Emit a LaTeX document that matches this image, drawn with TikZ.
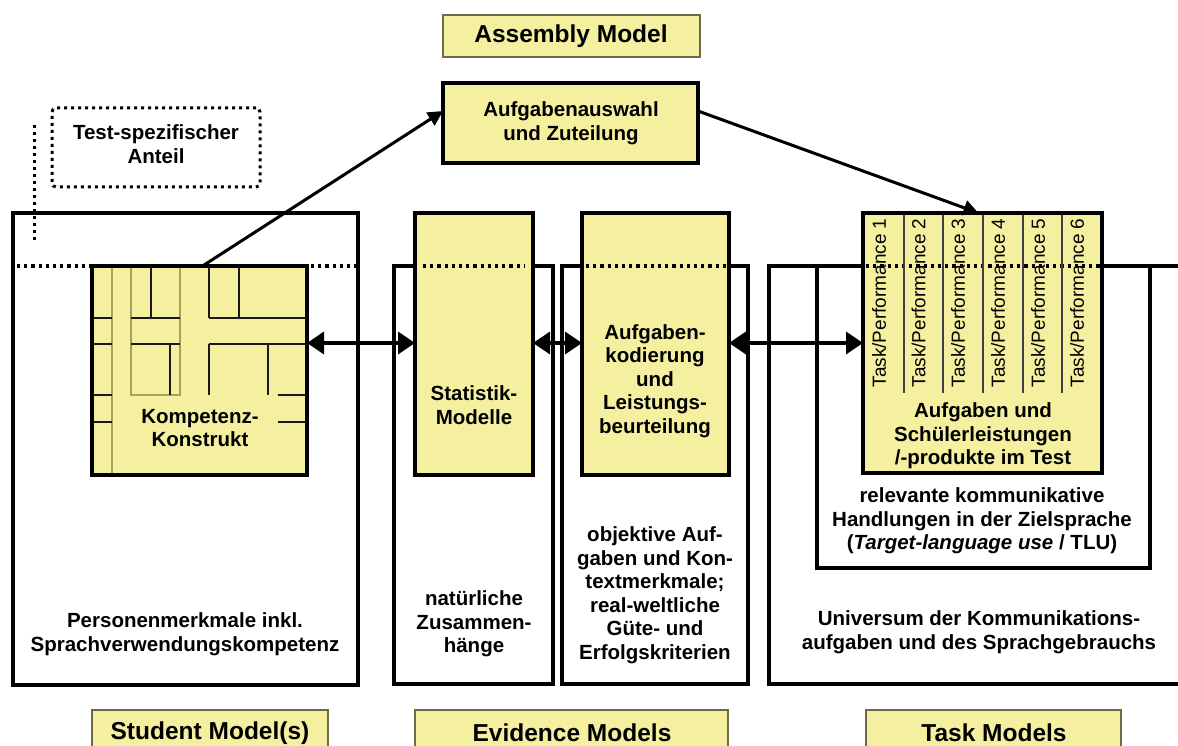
\documentclass[tikz,border=0pt]{standalone}
\usepackage{fontspec}
\setmainfont{Liberation Sans}
\usetikzlibrary{arrows.meta}
\definecolor{boxyellow}{RGB}{245,240,160}
\definecolor{gridolive}{RGB}{170,160,90}
\definecolor{labelborder}{RGB}{110,105,70}
\begin{document}
\begin{tikzpicture}[x=1pt,y=-1pt,
  box/.style={inner sep=0pt, outer sep=0pt, anchor=north west},
  outerbox/.style={box, draw=black, line width=3.5pt},
  yellowbox/.style={box, draw=black, line width=3.5pt, fill=boxyellow},
  labelbox/.style={box, draw=labelborder, line width=1.6pt, fill=boxyellow},
  txt/.style={font=\bfseries\fontsize{20.5}{23.5}\selectfont, align=center, inner sep=0pt},
  labeltxt/.style={font=\bfseries\fontsize{24.5}{28}\selectfont, inner sep=0pt},
  perftxt/.style={font=\fontsize{19}{22}\selectfont, inner sep=0pt, rotate=90},
  dotline/.style={line width=3.2pt, dash pattern=on 3.2pt off 4pt},
  thindot/.style={line width=3pt, dash pattern=on 3pt off 4pt},
  darkgrid/.style={line width=2.2pt, draw=black!90},
  olivegrid/.style={line width=2.2pt, draw=gridolive},
  collines/.style={line width=1.4pt, draw=black!75},
  dblarrow/.style={line width=3.5pt, {Triangle[length=17pt,width=22pt]}-{Triangle[length=17pt,width=22pt]}},
  connarrow/.style={line width=3pt, -{Triangle[length=15pt,width=15pt]}}
]
\fill[white] (0,0) rectangle (1178,746);
\clip (0,0) rectangle (1178,746);
\useasboundingbox (0,0) rectangle (1178,746);

% outer (white) boxes
\node[outerbox, minimum width=345pt, minimum height=472pt] (studentouter) at (13,213) {};
\node[outerbox, minimum width=159pt, minimum height=418pt] (statouter) at (394,266) {};
\node[outerbox, minimum width=186pt, minimum height=418pt] (evidouter) at (562,266) {};
\node[outerbox, minimum width=450pt, minimum height=418pt] (taskouter) at (769,266) {};
\node[outerbox, minimum width=333pt, minimum height=302pt] (tlu) at (817,266) {};

% yellow boxes
\node[yellowbox, minimum width=215pt, minimum height=209pt] (komp) at (92,266) {};
\node[yellowbox, minimum width=118pt, minimum height=262pt] (stat) at (415,213) {};
\node[yellowbox, minimum width=147pt, minimum height=262pt] (kod) at (582,213) {};
\node[yellowbox, minimum width=239pt, minimum height=260pt] (task) at (863,213) {};
\node[yellowbox, line width=4pt, minimum width=255pt, minimum height=80pt] (auswahl) at (443,83) {};
\node[labelbox, minimum width=257pt, minimum height=42pt] (assembly) at (443,15) {};
\node[labelbox, minimum width=236pt, minimum height=45pt] (studentlabel) at (92,710) {};
\node[labelbox, minimum width=313pt, minimum height=45pt] (evidlabel) at (415,710) {};
\node[labelbox, minimum width=255pt, minimum height=45pt] (tasklabel) at (866,710) {};

% test-specific dotted box
\node[box, draw=black, thindot, rounded corners=4pt, minimum width=208pt, minimum height=79pt] (testbox) at (52,108) {};
\draw[thindot] (34,125) -- (34,242);

% dotted line of test-specific part
\draw[dotline] (17,266) -- (90,266);
\draw[dotline] (311,266) -- (356,266);
\draw[dotline] (423,266) -- (525,266);
\draw[dotline] (586,266) -- (726,266);
\draw[dotline] (866,266) -- (1100,266);

% Kompetenz grid
\draw[olivegrid] (112,268) -- (112,473);
\draw[olivegrid] (131,268) -- (131,395) -- (180,395) -- (180,268);
\draw[darkgrid] (151,268) -- (151,318);
\draw[darkgrid] (170,344) -- (170,395);
\draw[darkgrid] (209,268) -- (209,318);
\draw[darkgrid] (209,344) -- (209,395);
\draw[darkgrid] (239,268) -- (239,318);
\draw[darkgrid] (268,344) -- (268,395);
\draw[darkgrid] (94,318) -- (112,318) (131,318) -- (180,318) (209,318) -- (305,318);
\draw[darkgrid] (94,344) -- (112,344) (131,344) -- (180,344) (209,344) -- (305,344);
\draw[darkgrid] (94,395) -- (112,395) (278,395) -- (305,395);
\draw[darkgrid] (94,422) -- (112,422) (278,422) -- (305,422);

% task columns
\foreach \cx in {904,943,983,1023,1062} {
  \draw[collines] (\cx,215) -- (\cx,393);
}
\node[perftxt] (tp1) at (879,303) {Task/Performance 1};
\node[perftxt] (tp2) at (918.5,303) {Task/Performance 2};
\node[perftxt] (tp3) at (958,303) {Task/Performance 3};
\node[perftxt] (tp4) at (998,303) {Task/Performance 4};
\node[perftxt] (tp5) at (1038,303) {Task/Performance 5};
\node[perftxt] (tp6) at (1077,303) {Task/Performance 6};

% arrows
\coordinate (arrowy) at (0,343);
\coordinate (outy) at (0,111);
\draw[dblarrow] (komp.east |- arrowy) -- (stat.west |- arrowy);
\draw[dblarrow] (stat.east |- arrowy) -- (kod.west |- arrowy);
\draw[dblarrow] (kod.east |- arrowy) -- (task.west |- arrowy);
\draw[connarrow] ([xshift=3pt]komp.north) -- (auswahl.west |- outy);
\draw[connarrow] (auswahl.east |- outy) -- ([xshift=-4pt]task.north);

% texts
\node[labeltxt] (assemblytxt) at (571,36) {Assembly Model};
\node[txt] (auswahltxt) at (571,123) {Aufgabenauswahl\\und Zuteilung};
\node[txt] (testtxt) at (156,144) {Test-spezifischer\\Anteil};
\node[txt] (komptxt) at (200,428) {Kompetenz-\\Konstrukt};
\node[txt] (stattxt) at (474,405) {Statistik-\\Modelle};
\node[txt] (kodtxt) at (655,381) {Aufgaben-\\kodierung\\und\\Leistungs-\\beurteilung};
\node[txt] (tasktxt) at (983,436) {Aufgaben und\\Schülerleistungen\\/-produkte im Test};
\node[txt] (tlutxt) at (982,521) {relevante kommunikative\\Handlungen in der Zielsprache\\(\textit{Target-language use} / TLU)};
\node[txt] (persontxt) at (185,634) {Personenmerkmale inkl.\\Sprachverwendungskompetenz};
\node[txt] (naturtxt) at (474,624) {natürliche\\Zusammen-\\hänge};
\node[txt] (objtxt) at (655,595) {objektive Auf-\\gaben und Kon-\\textmerkmale;\\real-weltliche\\Güte- und\\Erfolgskriterien};
\node[txt] (univtxt) at (979,632) {Universum der Kommunikations-\\aufgaben und des Sprachgebrauchs};
\node[labeltxt] (studentlabeltxt) at (210,733) {Student Model(s)};
\node[labeltxt] (evidlabeltxt) at (572,733) {Evidence Models};
\node[labeltxt] (tasklabeltxt) at (994,733) {Task Models};
\end{tikzpicture}
\end{document}
